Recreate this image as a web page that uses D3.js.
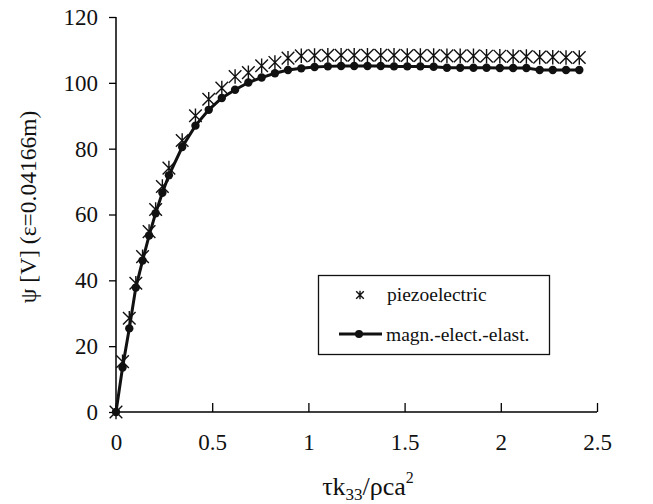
<!DOCTYPE html>
<html>
<head>
<meta charset="utf-8">
<script src="https://cdnjs.cloudflare.com/ajax/libs/d3/7.8.5/d3.min.js"></script>
<style>
  body { margin: 0; background: #fff; }
  svg { display: block; font-family: "Liberation Serif", "Times New Roman", serif; }
</style>
</head>
<body>
<svg id="chart" width="653" height="504"></svg>
<script>
// time axis (tau k33 / rho c a^2)
var tau = [0, 0.034, 0.069, 0.103, 0.138, 0.172, 0.206, 0.241, 0.275,
  0.344, 0.413, 0.482, 0.550, 0.619, 0.688, 0.757, 0.826, 0.894, 0.963,
  1.032, 1.101, 1.170, 1.238, 1.307, 1.376, 1.445, 1.514, 1.582, 1.651,
  1.720, 1.789, 1.858, 1.926, 1.995, 2.064, 2.133, 2.202, 2.270, 2.339, 2.408]

var piezo = [0, 15.3, 28.5, 39.1, 47.2, 54.8, 61.5, 68.5, 74.1,
  82.5, 90.0, 95.0, 98.4, 101.9, 103.1, 105.2, 106.2, 107.5, 108.2,
  108.3, 108.4, 108.4, 108.4, 108.4, 108.4, 108.4, 108.3, 108.3, 108.3,
  108.2, 108.2, 108.2, 108.1, 108.1, 108.0, 108.0, 107.8, 107.8, 107.7, 107.7]

var magn = [0, 13.5, 25.4, 37.8, 46.0, 53.6, 60.4, 66.6, 71.9,
  80.5, 87.0, 91.8, 95.4, 97.9, 100.1, 101.6, 102.9, 103.9, 104.4,
  104.8, 105.0, 105.1, 105.1, 105.1, 105.1, 105.0, 105.0, 105.0, 104.9,
  104.6, 104.6, 104.6, 104.6, 104.5, 104.5, 104.5, 103.9, 103.9, 103.9, 103.9]

var xTicks = [0, 0.5, 1, 1.5, 2, 2.5]
var yTicks = [0, 20, 40, 60, 80, 100, 120]

const svg = d3.select('#chart')

const x = d3.scaleLinear().domain([0, 2.5]).range([116, 597])
const y = d3.scaleLinear().domain([0, 120]).range([412, 17])

const serif = '"Liberation Serif", "Times New Roman", serif'

// axes: x ticks point inward, y ticks point outward
const xAxis = svg.append('g')
  .attr('transform', 'translate(0,' + y(0) + ')')
  .call(d3.axisBottom(x).tickValues(xTicks).tickSize(-9).tickPadding(22)
    .tickFormat(d3.format('')))
xAxis.select('.domain').attr('stroke-width', 1.5).attr('d', 'M' + x(0) + ',0H' + x(2.5))
xAxis.selectAll('.tick line').attr('stroke-width', 1.3)
xAxis.selectAll('.tick text').attr('font-size', 23).attr('fill', '#111')
  .attr('font-family', serif)

const yAxis = svg.append('g')
  .attr('transform', 'translate(' + x(0) + ',0)')
  .call(d3.axisLeft(y).tickValues(yTicks).tickSize(7).tickPadding(11))
yAxis.select('.domain').attr('stroke-width', 1.5).attr('d', 'M0,' + y(0) + 'V' + y(120))
yAxis.selectAll('.tick line').attr('stroke-width', 1.3)
yAxis.selectAll('.tick text').attr('font-size', 23).attr('fill', '#111')
  .attr('font-family', serif)

// magn.-elect.-elast. line with filled dots
const magnData = tau.map((t, i) => ({ t: t, v: magn[i] }))
const piezoData = tau.map((t, i) => ({ t: t, v: piezo[i] }))

svg.append('path')
  .datum(magnData)
  .attr('fill', 'none')
  .attr('stroke', '#111')
  .attr('stroke-width', 3)
  .attr('d', d3.line().x((d) => x(d.t)).y((d) => y(d.v)))

svg.append('g')
  .selectAll('circle')
  .data(magnData)
  .enter()
  .append('circle')
  .attr('cx', (d) => x(d.t))
  .attr('cy', (d) => y(d.v))
  .attr('r', 4.2)
  .attr('fill', '#111')

// piezoelectric asterisk markers (X with a vertical bar)
function star(g, s) {
  g.append('path')
    .attr('d', 'M' + (-s) + ',' + (-s) + 'L' + s + ',' + s +
      'M' + (-s) + ',' + s + 'L' + s + ',' + (-s) +
      'M0,' + (-s * 1.15) + 'V' + (s * 1.15))
    .attr('stroke', '#111')
    .attr('stroke-width', 1.4)
    .attr('fill', 'none')
}

svg.append('g')
  .selectAll('g')
  .data(piezoData)
  .enter()
  .append('g')
  .attr('transform', (d) => 'translate(' + x(d.t) + ',' + y(d.v) + ')')
  .each(function() { star(d3.select(this), 6.3) })

// legend
const legend = svg.append('g')
legend.append('rect')
  .attr('x', 318.5).attr('y', 275.5).attr('width', 231).attr('height', 79)
  .attr('fill', '#fff').attr('stroke', '#111').attr('stroke-width', 1.3)
const ls = legend.append('g').attr('transform', 'translate(360,295)')
star(ls, 3.8)
legend.append('text').attr('x', 387).attr('y', 301)
  .attr('font-size', 19.5).attr('fill', '#111').text('piezoelectric')
legend.append('line').attr('x1', 339).attr('x2', 382).attr('y1', 334).attr('y2', 334)
  .attr('stroke', '#111').attr('stroke-width', 3)
legend.append('circle').attr('cx', 359).attr('cy', 334).attr('r', 4).attr('fill', '#111')
legend.append('text').attr('x', 386).attr('y', 341)
  .attr('font-size', 19.5).attr('fill', '#111').text('magn.-elect.-elast.')

// axis titles
const xt = svg.append('text')
  .attr('x', 368).attr('y', 495)
  .attr('text-anchor', 'middle')
  .attr('font-size', 26).attr('fill', '#111')
xt.append('tspan').text('τk')
xt.append('tspan').attr('font-size', 17).attr('dy', 5).text('33')
xt.append('tspan').attr('dy', -5).text('/ρca')
xt.append('tspan').attr('font-size', 16).attr('dy', -12).text('2')

svg.append('text')
  .attr('transform', 'translate(36,207) rotate(-90)')
  .attr('text-anchor', 'middle')
  .attr('font-size', 23.5).attr('fill', '#111')
  .text('ψ [V] (ε=0.04166m)')
</script>
</body>
</html>
